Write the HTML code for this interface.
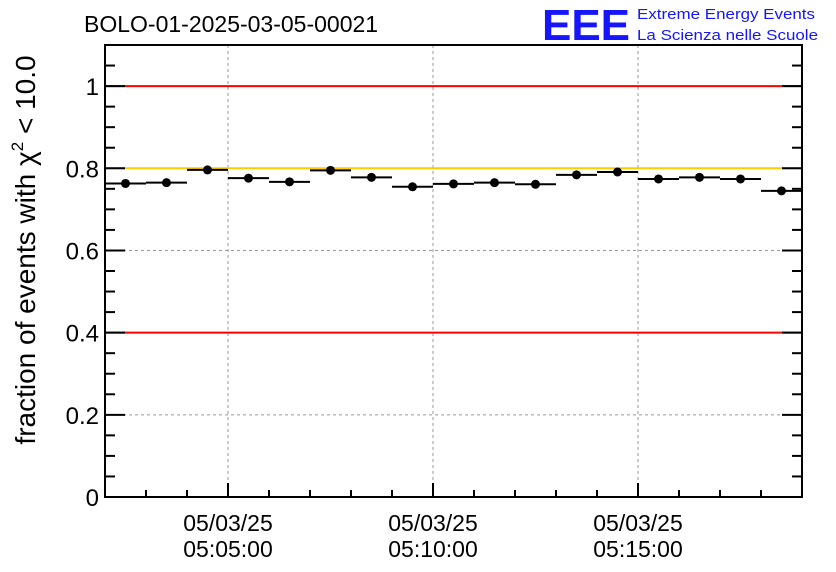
<!DOCTYPE html>
<html><head><meta charset="utf-8"><style>
body{margin:0;background:#fff}
svg{display:block;font-family:"Liberation Sans",sans-serif}
</style></head><body>
<svg id="c" width="836" height="572">
<text x="84" y="32" font-size="23" fill="#000">BOLO-01-2025-03-05-00021</text>
<text x="542" y="40" font-size="44" fill="#1515ff" font-weight="bold" textLength="88" lengthAdjust="spacingAndGlyphs">EEE</text>
<text x="637" y="19" font-size="15" fill="#1515ff" textLength="178" lengthAdjust="spacingAndGlyphs">Extreme Energy Events</text>
<text x="637" y="40" font-size="15" fill="#1515ff" textLength="181" lengthAdjust="spacingAndGlyphs">La Scienza nelle Scuole</text>
<text transform="translate(35,250) rotate(-90)" text-anchor="middle" font-size="28">fraction of events with χ<tspan font-size="17" dy="-12">2</tspan><tspan dy="12"> &lt; 10.0</tspan></text>
<g id="g"></g>
</svg>
<script>
const values=[0.763,0.765,0.796,0.776,0.767,0.795,0.778,0.755,0.762,0.765,0.761,0.784,0.791,0.774,0.778,0.774,0.745];
const errors=[0.004,0.004,0.004,0.004,0.004,0.004,0.004,0.004,0.004,0.004,0.004,0.004,0.004,0.004,0.004,0.004,0.004];
const yTicks=[0,0.2,0.4,0.6,0.8,1];
const yTickLabels=["0","0.2","0.4","0.6","0.8","1"];
const xStartMin=2; // 05:02:00
const xEndMin=19;
const xMajorMin=[5,10,15];
const xMajorLabels=[["05/03/25","05:05:00"],["05/03/25","05:10:00"],["05/03/25","05:15:00"]];
const refLines=[{v:1,c:"#ff0000"},{v:0.8,c:"#ffcc00"},{v:0.4,c:"#ff0000"}];
const L=105,R=802,T=45,B=497,yMax=1.1;
const X=m=>L+(m-xStartMin)/(xEndMin-xStartMin)*(R-L);
const Y=v=>B-v/yMax*(B-T);
const g=document.getElementById('g');const NS="http://www.w3.org/2000/svg";
function mk(t,a,name){const e=document.createElementNS(NS,t);for(const k in a)e.setAttribute(k,a[k]);


g.appendChild(e);return e;}
yTicks.forEach(v=>{if(v>0)mk('line',{x1:L,x2:R,y1:Y(v),y2:Y(v),stroke:'#999','stroke-dasharray':'3,3','stroke-width':1},'y-grid-line');});
xMajorMin.forEach(m=>mk('line',{x1:X(m),x2:X(m),y1:T,y2:B,stroke:'#999','stroke-dasharray':'3,3','stroke-width':1},'x-grid-line'));
refLines.forEach(r=>mk('line',{x1:L,x2:R,y1:Y(r.v),y2:Y(r.v),stroke:r.c,'stroke-width':2},'reference-line'));
mk('rect',{x:L,y:T,width:R-L,height:B-T,fill:'none',stroke:'#000','stroke-width':2},'plot-frame');
for(let i=0;i<=22;i++){const v=i*0.05;const maj=i%4==0;const len=maj?20:10;
mk('line',{x1:L,x2:L+len,y1:Y(v),y2:Y(v),stroke:'#000','stroke-width':2},'y-tick');
mk('line',{x1:R,x2:R-len,y1:Y(v),y2:Y(v),stroke:'#000','stroke-width':2},'y-tick-right');}
yTicks.forEach((v,i)=>{const t=mk('text',{x:L-6,y:Y(v)+9,'text-anchor':'end','font-size':24},'y-tick-label');t.textContent=yTickLabels[i];});
for(let m=xStartMin+1;m<xEndMin;m++){const maj=xMajorMin.includes(m);const len=maj?14:7;
mk('line',{x1:X(m),x2:X(m),y1:B,y2:B-len,stroke:'#000','stroke-width':2},'x-tick');}
xMajorMin.forEach((m,i)=>{const t1=mk('text',{x:X(m),y:531,'text-anchor':'middle','font-size':23},'x-tick-label-date');t1.textContent=xMajorLabels[i][0];
const t2=mk('text',{x:X(m),y:557,'text-anchor':'middle','font-size':23},'x-tick-label-time');t2.textContent=xMajorLabels[i][1];});
values.forEach((v,i)=>{const x0=X(xStartMin+i),x1=X(xStartMin+i+1),xc=(x0+x1)/2;
mk('line',{x1:x0,x2:x1,y1:Y(v),y2:Y(v),stroke:'#000','stroke-width':2},'bin-width-bar');
mk('line',{x1:xc,x2:xc,y1:Y(v+errors[i]),y2:Y(v-errors[i]),stroke:'#000','stroke-width':2},'error-bar');
mk('circle',{cx:xc,cy:Y(v),r:4.5,fill:'#000'},'data-point');});
</script>
</body></html>
